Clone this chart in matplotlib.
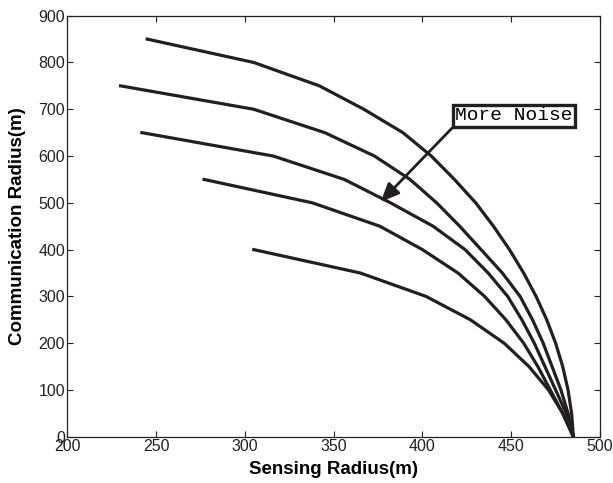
import matplotlib
matplotlib.use("Agg")
import matplotlib.pyplot as plt

# Communication radius levels (m) at which vertices were read
comm_1 = [850, 800, 750, 700, 650, 600, 550, 500, 450, 400, 350, 300, 250, 200, 150, 100, 50, 0]
sens_1 = [245, 305, 342, 367, 389, 405, 418, 430, 440, 449, 457, 464, 470, 475, 479, 482, 484, 485]

comm_2 = [750, 700, 650, 600, 550, 500, 450, 400, 350, 300, 250, 200, 150, 100, 50, 0]
sens_2 = [230, 305, 345, 373, 393, 408, 421, 433, 445, 455, 462, 468, 473, 478, 482, 485]

comm_3 = [650, 600, 550, 500, 450, 400, 350, 300, 250, 200, 150, 100, 50, 0]
sens_3 = [242, 316, 356, 382, 406, 424, 437, 448, 456, 463, 469, 475, 481, 485]

comm_4 = [550, 500, 450, 400, 350, 300, 250, 200, 150, 100, 50, 0]
sens_4 = [277, 338, 376, 400, 420, 435, 447, 457, 465, 472, 479, 485]

comm_5 = [400, 350, 300, 250, 200, 150, 100, 50, 0]
sens_5 = [305, 365, 402, 427, 446, 460, 471, 479, 485]

x_ticks = [200, 250, 300, 350, 400, 450, 500]
y_ticks = [0, 100, 200, 300, 400, 500, 600, 700, 800, 900]

plt.rcParams['font.family'] = ['Liberation Sans', 'DejaVu Sans']

fig = plt.figure(figsize=(6.13, 4.83), dpi=100)
ax = fig.add_axes([0.1098, 0.0958, 0.8690, 0.8717])

col = '#231f20'
for xs, ys in [(sens_1, comm_1), (sens_2, comm_2), (sens_3, comm_3), (sens_4, comm_4), (sens_5, comm_5)]:
    ax.plot(xs, ys, color=col, lw=2.3, solid_joinstyle='round')

ax.set_xlim(200, 500)
ax.set_ylim(0, 900)
ax.set_xticks(x_ticks)
ax.set_yticks(y_ticks)
ax.tick_params(direction='in', top=True, right=True, labelsize=11.5, length=4, width=0.8,
               colors='#222222', pad=1.5)
for s in ax.spines.values():
    s.set_linewidth(0.9)
    s.set_color('#222222')

ax.set_xlabel('Sensing Radius(m)', fontsize=13.5, fontweight='bold', va='center')
ax.set_ylabel('Communication Radius(m)', fontsize=13.5, fontweight='bold', va='center')
ax.xaxis.set_label_coords(0.5, -0.079)
ax.yaxis.set_label_coords(-0.094, 0.5)

ax.annotate('More Noise', xy=(376.5, 502), xytext=(451.7, 685.6),
            ha='center', va='center', fontsize=14, family='Liberation Mono',
            bbox=dict(boxstyle='square,pad=0.12', fc='white', ec=col, lw=2.4),
            arrowprops=dict(arrowstyle='-|>,head_length=0.8,head_width=0.35', color=col, lw=2.0,
                            shrinkA=0, shrinkB=0, relpos=(0, 0)))

fig.savefig('out.png', dpi=100)
